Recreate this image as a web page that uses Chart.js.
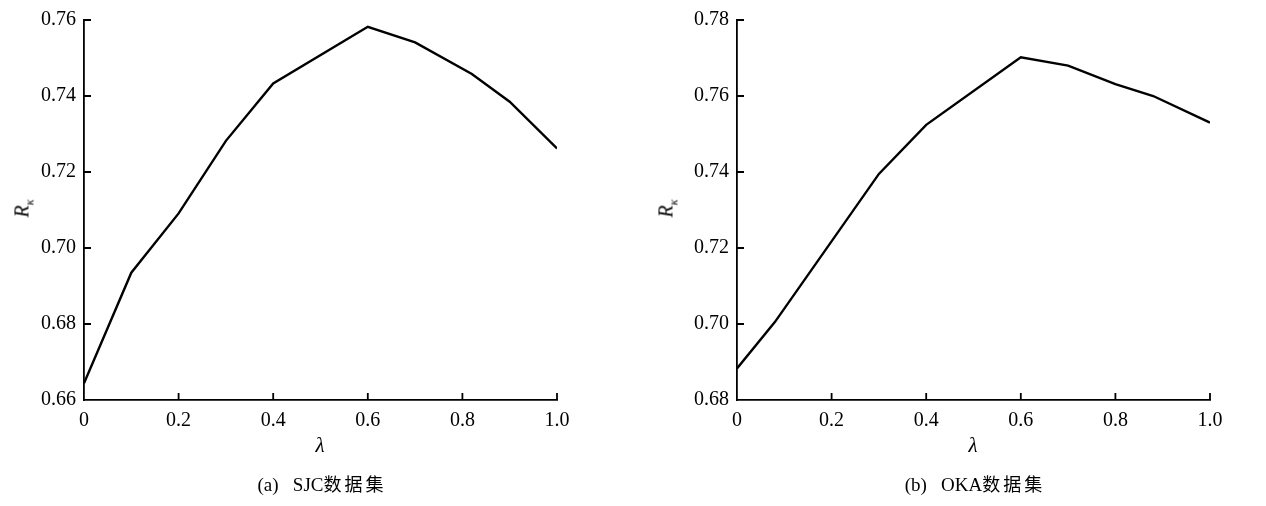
<!DOCTYPE html>
<html>
<head>
<meta charset="utf-8">
<script src="https://cdn.jsdelivr.net/npm/chart.js@4"></script>
<style>
    body { margin: 0; background: #fff; width: 1266px; height: 506px; position: relative; overflow: hidden; }
    canvas { position: absolute; top: 0; }
    .ytitle, .xtitle, .caption { position: absolute; font-family: "Liberation Serif", serif; color: #000; }
    .ytitle { font-style: italic; font-size: 20px; transform: rotate(-90deg); transform-origin: center; width: 40px; text-align: center; }
    .ytitle sub { font-size: 12px; }
    .xtitle { font-style: italic; font-size: 21px; width: 40px; text-align: center; }
    .caption { font-size: 19px; width: 300px; text-align: center; white-space: pre; }
    .caption .cjk { font-family: "Noto Sans CJK SC", sans-serif; font-size: 18px; letter-spacing: 3px; }
</style>
</head>
<body>
<canvas id="chartSJC" width="633" height="506" style="left:0"></canvas>
<canvas id="chartOKA" width="613" height="506" style="left:653px"></canvas>

<div class="ytitle" style="left:4px; top:195px">R<sub>κ</sub></div>
<div class="xtitle" style="left:300px; top:433px">λ</div>
<div class="caption" style="left:172px; top:470px">(a)   SJC<span class="cjk">数据集</span></div>

<div class="ytitle" style="left:648px; top:195px">R<sub>κ</sub></div>
<div class="xtitle" style="left:953px; top:433px">λ</div>
<div class="caption" style="left:825px; top:470px">(b)   OKA<span class="cjk">数据集</span></div>

<script>
// λ values and R_κ for each data set
const lambdaSJC = [0, 0.1, 0.2, 0.3, 0.4, 0.6, 0.7, 0.82, 0.9, 1.0];
const rkSJC = [0.6644, 0.6935, 0.7091, 0.7282, 0.7433, 0.7582, 0.7541, 0.7458, 0.7385, 0.7262];

const lambdaOKA = [0, 0.08, 0.3, 0.4, 0.6, 0.7, 0.8, 0.88, 1.0];
const rkOKA = [0.6883, 0.7005, 0.7395, 0.7524, 0.7702, 0.768, 0.7631, 0.760, 0.753];

// axis ranges / ticks
const xTicks = [0, 0.2, 0.4, 0.6, 0.8, 1.0];
const yTicksSJC = [0.66, 0.68, 0.70, 0.72, 0.74, 0.76];
const yTicksOKA = [0.68, 0.70, 0.72, 0.74, 0.76, 0.78];

// inward tick marks like the printed figure
const innerTicks = {
    id: 'innerTicks',
    afterDraw(chart) {
        const { ctx, chartArea, scales } = chart;
        ctx.save();
        ctx.strokeStyle = '#000';
        ctx.lineWidth = 1.8;
        ctx.beginPath();
        scales.x.ticks.forEach(t => {
            if (t.value === scales.x.min) return;
            const px = scales.x.getPixelForValue(t.value);
            ctx.moveTo(px, chartArea.bottom);
            ctx.lineTo(px, chartArea.bottom - 7);
        });
        scales.y.ticks.forEach(t => {
            if (t.value === scales.y.min) return;
            const py = scales.y.getPixelForValue(t.value);
            ctx.moveTo(chartArea.left, py);
            ctx.lineTo(chartArea.left + 7, py);
        });
        ctx.stroke();
        ctx.restore();
    }
};

const makeChart = (id, xs, ys, yTicks, padRight) => {
    const ctx = document.getElementById(id).getContext('2d');
    const font = { family: '"Liberation Serif", serif', size: 20 };

    new Chart(ctx, {
        type: 'line',
        data: {
            datasets: [{
                data: xs.map((x, i) => ({ x: x, y: ys[i] })),
                borderColor: '#000',
                borderWidth: 2.4,
                pointRadius: 0,
                tension: 0,
                fill: false,
            }],
        },
        options: {
            responsive: false,
            animation: false,
            layout: { padding: { top: 20, right: padRight, left: 0, bottom: 0 } },
            plugins: { legend: { display: false }, tooltip: { enabled: false } },
            scales: {
                x: {
                    type: 'linear',
                    min: xTicks[0],
                    max: xTicks[xTicks.length - 1],
                    afterBuildTicks: s => { s.ticks = xTicks.map(v => ({ value: v })); },
                    afterFit: s => { s.height = 106; },
                    grid: { display: false },
                    border: { display: true, color: '#000', width: 1.8 },
                    ticks: {
                        color: '#000',
                        font: font,
                        padding: 1,
                        maxRotation: 0,
                        callback: v => (v === 0 ? '0' : v.toFixed(1)),
                    },
                },
                y: {
                    type: 'linear',
                    min: yTicks[0],
                    max: yTicks[yTicks.length - 1],
                    afterBuildTicks: s => { s.ticks = yTicks.map(v => ({ value: v })); },
                    afterFit: s => { s.width = 84; },
                    grid: { display: false },
                    border: { display: true, color: '#000', width: 1.8 },
                    ticks: {
                        color: '#000',
                        font: font,
                        padding: 0,
                        callback: v => v.toFixed(2),
                    },
                },
            },
        },
        plugins: [innerTicks],
    });
};

makeChart('chartSJC', lambdaSJC, rkSJC, yTicksSJC, 76);
makeChart('chartOKA', lambdaOKA, rkOKA, yTicksOKA, 56);
</script>
</body>
</html>
